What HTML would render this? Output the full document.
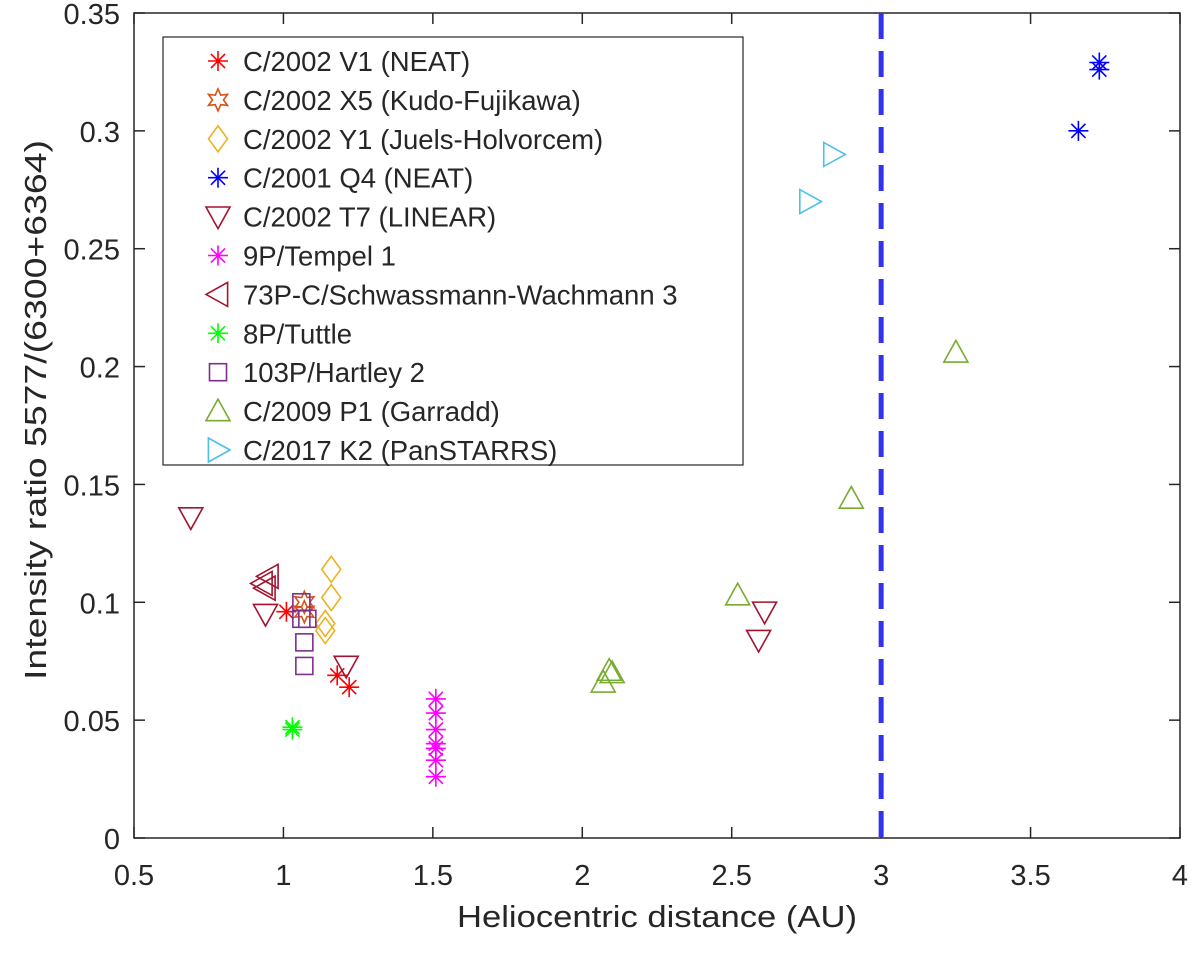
<!DOCTYPE html>
<html><head><meta charset="utf-8"><style>
body{margin:0;background:#fff;}
svg text{font-family:"Liberation Sans",sans-serif;fill:#262626;}
</style></head><body>
<svg id="chart" width="1200" height="950" xmlns="http://www.w3.org/2000/svg"></svg>
<script>
const xTicks=[0.5,1,1.5,2,2.5,3,3.5,4];
const yTicks=[0,0.05,0.1,0.15,0.2,0.25,0.3,0.35];
const seriesNames=["C/2002 V1 (NEAT)","C/2002 X5 (Kudo-Fujikawa)","C/2002 Y1 (Juels-Holvorcem)","C/2001 Q4 (NEAT)","C/2002 T7 (LINEAR)","9P/Tempel 1","73P-C/Schwassmann-Wachmann 3","8P/Tuttle","103P/Hartley 2","C/2009 P1 (Garradd)","C/2017 K2 (PanSTARRS)"];
const seriesColors=["#ff0000","#d95319","#edb120","#0000ff","#a2142f","#ff00ff","#a2142f","#00ff00","#7e2f8e","#77ac30","#4dbeee"];
const seriesMarkers=["star","hexagram","diamond","star","tridown","star","trileft","star","square","triup","triright"];
const v1X=[1.01,1.18,1.22], v1Y=[0.096,0.069,0.064];
const x5X=[1.07,1.07], x5Y=[0.100,0.096];
const y1X=[1.16,1.16,1.14,1.14], y1Y=[0.114,0.102,0.091,0.088];
const q4X=[3.73,3.73,3.66], q4Y=[0.329,0.326,0.300];
const t7X=[0.69,0.94,1.21,2.61,2.59], t7Y=[0.136,0.095,0.073,0.096,0.084];
const tempelX=[1.51,1.51,1.51,1.51,1.51,1.51,1.51], tempelY=[0.059,0.053,0.046,0.040,0.038,0.033,0.026];
const sw3X=[0.93,0.95,0.94], sw3Y=[0.108,0.111,0.106];
const tuttleX=[1.03,1.03], tuttleY=[0.047,0.046];
const hartleyX=[1.06,1.06,1.08,1.07,1.07], hartleyY=[0.100,0.093,0.093,0.083,0.073];
const garraddX=[3.25,2.90,2.52,2.09,2.10,2.07], garraddY=[0.206,0.144,0.103,0.071,0.070,0.066];
const k2X=[2.84,2.76], k2Y=[0.290,0.270];
const allX=[v1X,x5X,y1X,q4X,t7X,tempelX,sw3X,tuttleX,hartleyX,garraddX,k2X];
const allY=[v1Y,x5Y,y1Y,q4Y,t7Y,tempelY,sw3Y,tuttleY,hartleyY,garraddY,k2Y];
const dashX=3;

const L=134,R=1180,T=13,B=838;
const sx=v=>L+(v-0.5)/3.5*(R-L);
const sy=v=>B-v/0.35*(B-T);
const svg=document.getElementById('chart');
const NS="http://www.w3.org/2000/svg";
function mk(tag,attrs,parent){const e=document.createElementNS(NS,tag);for(const k in attrs)e.setAttribute(k,attrs[k]);(parent||svg).appendChild(e);return e;}

const ax=mk('rect',{x:L,y:T,width:R-L,height:B-T,fill:'none',stroke:'#262626','stroke-width':1.5});


xTicks.forEach(t=>{const x=sx(t);
 mk('line',{x1:x,y1:B,x2:x,y2:B-11,stroke:'#262626','stroke-width':1.5});
 mk('line',{x1:x,y1:T,x2:x,y2:T+11,stroke:'#262626','stroke-width':1.5});
 const tx=mk('text',{x:x,y:885,'font-size':29,'text-anchor':'middle'});tx.textContent=t;
 
 });
yTicks.forEach(t=>{const y=sy(t);
 mk('line',{x1:L,y1:y,x2:L+11,y2:y,stroke:'#262626','stroke-width':1.5});
 mk('line',{x1:R,y1:y,x2:R-11,y2:y,stroke:'#262626','stroke-width':1.5});
 const tx=mk('text',{x:L-14,y:y+11,'font-size':29,'text-anchor':'end'});tx.textContent=t;
 
 });
const xt=mk('text',{x:657,y:927,'font-size':31,'text-anchor':'middle',textLength:400,lengthAdjust:'spacingAndGlyphs'});xt.textContent="Heliocentric distance (AU)";


const yt=mk('text',{x:0,y:0,'font-size':31,'text-anchor':'middle',textLength:540,lengthAdjust:'spacingAndGlyphs',transform:`translate(46,410) rotate(-90)`});yt.textContent="Intensity ratio 5577/(6300+6364)";



const dl=mk('line',{x1:sx(dashX),y1:T,x2:sx(dashX),y2:B,stroke:'#3333ee','stroke-width':5,'stroke-dasharray':'26 12'});



function marker(type,x,y,c,g){
 const s=10,sw=1.6;
 if(type==='star'){const p=[];for(let i=0;i<4;i++){const a=i*Math.PI/4;p.push(`M${x-s*Math.cos(a)},${y-s*Math.sin(a)}L${x+s*Math.cos(a)},${y+s*Math.sin(a)}`);}
  return mk('path',{d:p.join(''),stroke:c,'stroke-width':sw,fill:'none'},g);}
 if(type==='hexagram'){const p=[];for(let i=0;i<12;i++){const a=-Math.PI/2+i*Math.PI/6;const r=i%2?s*0.55:s*1.1;p.push(`${x+r*Math.cos(a)},${y+r*Math.sin(a)}`);}
  return mk('polygon',{points:p.join(' '),stroke:c,'stroke-width':sw,fill:'none'},g);}
 if(type==='diamond')return mk('polygon',{points:`${x},${y-s*1.3} ${x+s*0.95},${y} ${x},${y+s*1.3} ${x-s*0.95},${y}`,stroke:c,'stroke-width':sw,fill:'none'},g);
 if(type==='square')return mk('rect',{x:x-8.5,y:y-8.5,width:17,height:17,stroke:c,'stroke-width':sw,fill:'none'},g);
 const k=12;let pts;
 if(type==='triup')pts=[[0,-k],[k,k*0.8],[-k,k*0.8]];
 if(type==='tridown')pts=[[0,k],[k,-k*0.8],[-k,-k*0.8]];
 if(type==='trileft')pts=[[-k,0],[k*0.8,-k],[k*0.8,k]];
 if(type==='triright')pts=[[k,0],[-k*0.8,-k],[-k*0.8,k]];
 return mk('polygon',{points:pts.map(p=>`${x+p[0]},${y+p[1]}`).join(' '),stroke:c,'stroke-width':sw,fill:'none'},g);
}
allX.forEach((xs,si)=>{
 const g=mk('g',{});
 
 
 xs.forEach((xv,i)=>{const m=marker(seriesMarkers[si],sx(xv),sy(allY[si][i]),seriesColors[si],g);
  
  });
});

const lg=mk('g',{});


mk('rect',{x:163,y:37,width:580,height:428,fill:'#fff',stroke:'#262626','stroke-width':1.2},lg);
seriesNames.forEach((n,i)=>{const y=61+i*38.9;
 const e=mk('g',{},lg);
 
 
 marker(seriesMarkers[i],218,y,seriesColors[i],e);
 const t=mk('text',{x:243,y:y+10,'font-size':27.5,fill:'#000'},e);t.textContent=n;});
</script>
</body></html>
